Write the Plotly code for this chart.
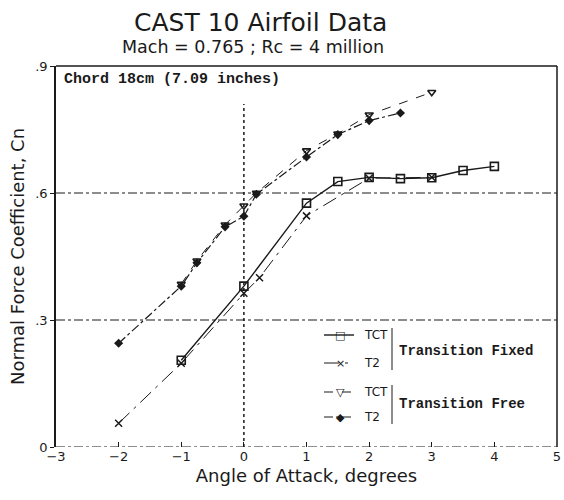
import plotly.graph_objects as go

# ---- data ----
tct_fixed_aoa = [-1.0, 0.0, 1.0, 1.5, 2.0, 2.5, 3.0, 3.5, 4.0]
tct_fixed_cn = [0.205, 0.380, 0.576, 0.627, 0.637, 0.634, 0.636, 0.653, 0.663]

t2_fixed_aoa = [-2.0, -1.0, 0.0, 0.25, 1.0, 2.0, 3.0]
t2_fixed_cn = [0.056, 0.198, 0.363, 0.400, 0.546, 0.635, 0.637]

tct_free_aoa = [-1.0, -0.75, -0.3, 0.0, 0.2, 1.0, 1.5, 2.0, 3.0]
tct_free_cn = [0.385, 0.440, 0.525, 0.570, 0.600, 0.700, 0.740, 0.785, 0.838]

t2_free_aoa = [-2.0, -1.0, -0.75, -0.3, 0.0, 0.2, 1.0, 1.5, 2.0, 2.5]
t2_free_cn = [0.245, 0.380, 0.435, 0.520, 0.545, 0.597, 0.685, 0.738, 0.771, 0.789]

x_ticks = [-3, -2, -1, 0, 1, 2, 3, 4, 5]
y_ticks = [0, 0.3, 0.6, 0.9]
y_tick_labels = ["0", ".3", ".6", ".9"]

INK = "#1a1a1a"
SANS = "DejaVu Sans"
MONO = "Liberation Mono"

fig = go.Figure()
fig.add_trace(go.Scatter(x=tct_fixed_aoa, y=tct_fixed_cn, mode="lines+markers",
                         line=dict(color=INK, width=1.4),
                         marker=dict(symbol="square-open", size=8, color=INK, line=dict(width=1.6)),
                         showlegend=False))
fig.add_trace(go.Scatter(x=t2_fixed_aoa, y=t2_fixed_cn, mode="lines+markers",
                         line=dict(color=INK, width=1, dash="longdashdot"),
                         marker=dict(symbol="x-thin-open", size=7, color=INK, line=dict(width=1.5)),
                         showlegend=False))
fig.add_trace(go.Scatter(x=tct_free_aoa, y=tct_free_cn, mode="lines+markers",
                         line=dict(color=INK, width=1, dash="dash"),
                         marker=dict(symbol="triangle-down-open", size=7, color=INK, line=dict(width=1.6)),
                         showlegend=False))
fig.add_trace(go.Scatter(x=t2_free_aoa, y=t2_free_cn, mode="lines+markers",
                         line=dict(color=INK, width=1.2, dash="dashdot"),
                         marker=dict(symbol="diamond", size=7, color=INK),
                         showlegend=False))

shapes = []
# reference lines
for yv in [0, 0.3, 0.6]:
    shapes.append(dict(type="line", xref="paper", yref="y", x0=0, x1=1, y0=yv, y1=yv,
                       line=dict(color=INK, width=1, dash="dashdot"), layer="below"))
shapes.append(dict(type="line", xref="x", yref="y", x0=0, x1=0, y0=0, y1=0.81,
                   line=dict(color=INK, width=1.5, dash="dot"), layer="below"))
# frame top / right
shapes.append(dict(type="line", xref="paper", yref="paper", x0=0, x1=1, y0=1, y1=1,
                   line=dict(color=INK, width=1.5)))
shapes.append(dict(type="line", xref="paper", yref="paper", x0=1, x1=1, y0=0, y1=1,
                   line=dict(color=INK, width=1.5)))

# page pixel -> paper coordinates (plot area spans x 56..557, y 66..447 on the page)
def px_x(p):
    return (p - 56) / 501.0

def px_y(p):
    return (447 - p) / 381.0

legend_rows = [
    ("TCT", 335, dict(color=INK, width=1.4), "□"),
    ("T2", 363, dict(color=INK, width=1, dash="longdashdot"), "×"),
    ("TCT", 392, dict(color=INK, width=1, dash="dash"), "▽"),
    ("T2", 417, dict(color=INK, width=1.2, dash="dashdot"), "◆"),
]
annotations = []
for label, py, ln, glyph in legend_rows:
    shapes.append(dict(type="line", xref="paper", yref="paper", x0=px_x(324), x1=px_x(354),
                       y0=px_y(py), y1=px_y(py), line=ln))
    annotations.append(dict(xref="paper", yref="paper", x=px_x(340), y=px_y(py), text=glyph,
                            showarrow=False, xanchor="center", yanchor="middle",
                            font=dict(family=SANS, size=11, color=INK)))
    annotations.append(dict(xref="paper", yref="paper", x=px_x(362), y=px_y(py), text=label,
                            showarrow=False, xanchor="left", yanchor="middle",
                            font=dict(family=SANS, size=12, color=INK)))
for y0p, y1p in [(328, 370), (385, 424)]:
    shapes.append(dict(type="line", xref="paper", yref="paper", x0=px_x(392), x1=px_x(392),
                       y0=px_y(y0p), y1=px_y(y1p), line=dict(color=INK, width=1)))
annotations.append(dict(xref="paper", yref="paper", x=px_x(397), y=px_y(351),
                        text="<b>Transition Fixed</b>", showarrow=False, xanchor="left",
                        yanchor="middle", font=dict(family=MONO, size=14, color=INK)))
annotations.append(dict(xref="paper", yref="paper", x=px_x(397), y=px_y(404),
                        text="<b>Transition Free</b>", showarrow=False, xanchor="left",
                        yanchor="middle", font=dict(family=MONO, size=14, color=INK)))
annotations.append(dict(xref="paper", yref="paper", x=px_x(62), y=px_y(80),
                        text="<b>Chord 18cm (7.09 inches)</b>", showarrow=False, xanchor="left",
                        yanchor="middle", font=dict(family=MONO, size=15, color=INK)))
# titles
annotations.append(dict(xref="paper", yref="paper", x=px_x(260), y=px_y(22),
                        text="CAST 10 Airfoil Data", showarrow=False, xanchor="center",
                        yanchor="middle", font=dict(family=SANS, size=25, color=INK)))
annotations.append(dict(xref="paper", yref="paper", x=px_x(253), y=px_y(47),
                        text="Mach = 0.765 ; Rc = 4 million", showarrow=False, xanchor="center",
                        yanchor="middle", font=dict(family=SANS, size=17.5, color=INK)))

fig.update_layout(
    width=564, height=500,
    margin=dict(l=56, r=7, t=66, b=53),
    paper_bgcolor="white", plot_bgcolor="white",
    shapes=shapes, annotations=annotations,
    showlegend=False,
    xaxis=dict(range=[-3, 5], tickvals=x_ticks, ticks="inside", ticklen=5, tickcolor=INK,
               showgrid=False, zeroline=False, showline=False, automargin=False,
               tickfont=dict(family=SANS, size=13, color=INK),
               title=dict(text="Angle of Attack, degrees", font=dict(family=SANS, size=18, color=INK),
                          standoff=6)),
    yaxis=dict(range=[0, 0.9], tickvals=y_ticks, ticktext=y_tick_labels, ticks="outside",
               ticklen=4, tickcolor=INK, showgrid=False, zeroline=False, showline=True,
               linecolor=INK, linewidth=1.5, automargin=False,
               tickfont=dict(family=SANS, size=13, color=INK),
               title=dict(text="Normal Force Coefficient, Cn", font=dict(family=SANS, size=18, color=INK),
                          standoff=6)),
)

# remove the default page margin so the 564x500 figure fills the window exactly
fig.write_html("out.html",
               config={"displayModeBar": False},
               post_script="document.body.style.margin='0';document.body.style.overflow='hidden';")
